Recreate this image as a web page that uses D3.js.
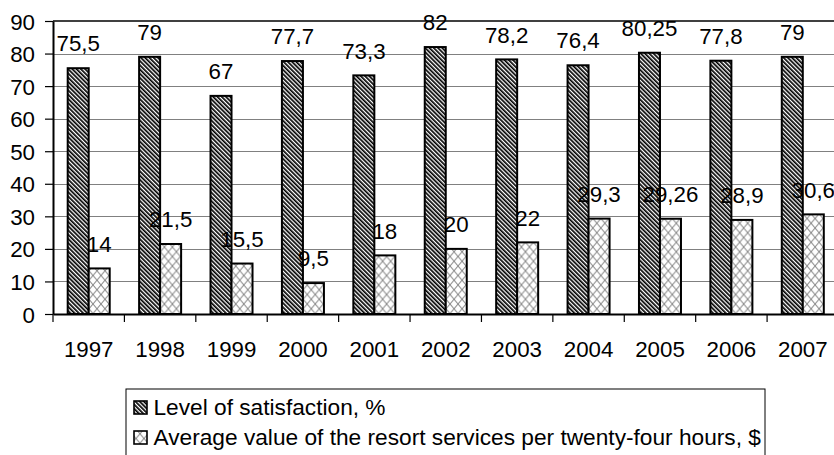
<!DOCTYPE html>
<html><head><meta charset="utf-8">
<script src="https://cdn.jsdelivr.net/npm/d3@7"></script>
<style>
body{margin:0;background:#fff}
svg{display:block}
text{font-family:"Liberation Sans",Arial,sans-serif;fill:#000}
</style>
</head><body>
<svg id="c" width="834" height="455"></svg>
<script>
const years = ["1997","1998","1999","2000","2001","2002","2003","2004","2005","2006","2007"];
const satisfaction = [75.5, 79, 67, 77.7, 73.3, 82, 78.2, 76.4, 80.25, 77.8, 79];
const avgValue = [14, 21.5, 15.5, 9.5, 18, 20, 22, 29.3, 29.26, 28.9, 30.6];
const seriesNames = ["Level of satisfaction, %", "Average value of the resort services per twenty-four hours, $"];
const yTicks = [0, 10, 20, 30, 40, 50, 60, 70, 80, 90];

(function () {
const svg = d3.select("#c");
svg.append("rect").attr("width", 834).attr("height", 455).attr("fill", "#fff");

const defs = svg.append("defs");
const p1 = defs.append("pattern").attr("id", "stripe").attr("patternUnits", "userSpaceOnUse")
  .attr("width", 3).attr("height", 3).attr("patternTransform", "rotate(-45)");
p1.append("rect").attr("width", 3).attr("height", 3).attr("fill", "#fff");
p1.append("rect").attr("width", 1.7).attr("height", 3).attr("fill", "#000");

const p2 = defs.append("pattern").attr("id", "cross").attr("patternUnits", "userSpaceOnUse")
  .attr("width", 8).attr("height", 9.5);
p2.append("rect").attr("width", 8).attr("height", 9.5).attr("fill", "#fff");
p2.append("path").attr("d", "M0,0L8,9.5M8,0L0,9.5").attr("stroke", "#858585").attr("stroke-width", 1);

const fills = ["url(#stripe)", "url(#cross)"];
const seriesData = [satisfaction, avgValue];

const mLeft = 53, mTop = 21, mBottom = 314, mRight = 838.5;
const x0 = d3.scaleBand().domain(years).range([mLeft, mRight]);
const x1 = d3.scaleBand().domain([0, 1]).range([0, x0.bandwidth()]).paddingInner(0).paddingOuter(0.7);
const y = d3.scaleLinear().domain([0, 90]).range([mBottom, mTop]);

// gridlines
svg.append("g").selectAll("line").data(yTicks.filter(t => t > 0 && t < 90)).join("line")
  .attr("x1", mLeft).attr("x2", mRight).attr("y1", d => Math.round(y(d)) + 0.5).attr("y2", d => Math.round(y(d)) + 0.5)
  .attr("stroke", "#808080").attr("stroke-width", 1);
// top border
svg.append("line").attr("x1", mLeft).attr("x2", mRight).attr("y1", y(90)).attr("y2", y(90))
  .attr("stroke", "#000").attr("stroke-width", 1.6);

// bars
const groups = svg.append("g").selectAll("g").data(years).join("g")
  .attr("transform", d => `translate(${x0(d)},0)`);
groups.selectAll("rect").data((d, i) => seriesData.map((s, k) => ({k, v: s[i]}))).join("rect")
  .attr("x", d => x1(d.k)).attr("width", x1.bandwidth())
  .attr("y", d => y(d.v)).attr("height", d => y(0) - y(d.v))
  .attr("fill", d => fills[d.k]).attr("stroke", "#000").attr("stroke-width", 2);

// value labels
groups.selectAll("text").data((d, i) => seriesData.map((s, k) => ({k, v: s[i]}))).join("text")
  .attr("x", d => x1(d.k) + x1.bandwidth() / 2).attr("y", d => y(d.v) - 16.8)
  .attr("text-anchor", "middle").attr("font-size", 22.3)
  .text(d => String(d.v).replace(".", ","));

// y axis
const yAxis = svg.append("g").attr("transform", `translate(${mLeft},0)`)
  .call(d3.axisLeft(y).tickValues(yTicks).tickSize(8).tickSizeOuter(0).tickPadding(10));
yAxis.select(".domain").attr("stroke", "#000").attr("stroke-width", 2);
yAxis.selectAll(".tick line").attr("stroke", "#000").attr("stroke-width", 1.2);
yAxis.selectAll("text").attr("font-size", 22.3).attr("font-family", null).attr("dy", "0.36em");

// x axis
const xAxis = svg.append("g").attr("transform", `translate(0,${mBottom})`)
  .call(d3.axisBottom(x0).tickSize(0).tickSizeOuter(0).tickPadding(27));
xAxis.select(".domain").attr("stroke", "#000").attr("stroke-width", 2);
xAxis.selectAll("text").attr("font-size", 22.3).attr("font-family", null);
svg.append("g").selectAll("line").data(years.map(d => x0(d)).concat([mRight])).join("line")
  .attr("x1", d => d).attr("x2", d => d).attr("y1", mBottom).attr("y2", mBottom + 8)
  .attr("stroke", "#000").attr("stroke-width", 1.2);

// legend
const lg = svg.append("g");
lg.append("rect").attr("x", 126).attr("y", 389).attr("width", 639).attr("height", 90)
  .attr("fill", "#fff").attr("stroke", "#000").attr("stroke-width", 1);
const items = lg.selectAll("g").data(seriesNames).join("g")
  .attr("transform", (d, i) => `translate(0,${i * 30})`);
items.append("rect").attr("x", 134).attr("y", 401).attr("width", 13).attr("height", 13)
  .attr("fill", (d, i) => fills[i]).attr("stroke", "#000").attr("stroke-width", 1.6);
items.append("text").attr("x", 153.5).attr("y", 415).attr("font-size", 22.7).text(d => d);
})();
</script>
</body></html>
